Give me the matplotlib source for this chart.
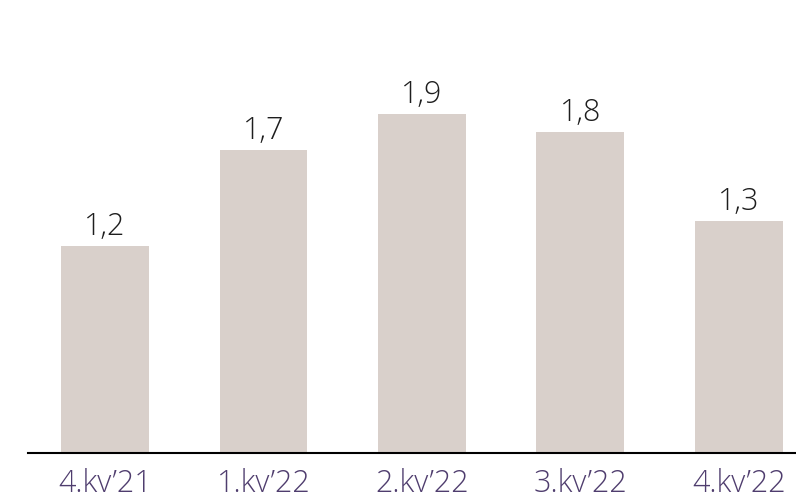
import matplotlib.pyplot as plt

quarters = ["4.kv\u201921", "1.kv\u201922", "2.kv\u201922", "3.kv\u201922", "4.kv\u201922"]
values = [1.16, 1.7, 1.9, 1.8, 1.3]

bar_color = "#d9d0cb"
tick_color = "#4f3d6e"

plt.rcParams['font.family'] = ['Open Sans', 'DejaVu Sans']

fig = plt.figure(figsize=(7.96, 5.01), dpi=100)
ax = fig.add_axes([28 / 796, 48 / 501, 768 / 796, 453 / 501])

x = list(range(len(quarters)))
bars = ax.bar(x, values, width=0.555, color=bar_color)

for xi, v in zip(x, values):
    ax.annotate(f"{v:.1f}".replace(".", ","), (xi, v), xytext=(0, 8),
                textcoords="offset points", ha="center", va="baseline",
                fontsize=22, fontweight="light", color="#1e1e1e")

ax.set_xlim(-0.486, 4.36)
ax.set_ylim(0, 2.54)
ax.set_xticks(x)
ax.set_xticklabels(quarters, fontsize=22, fontweight="light", color=tick_color)
ax.tick_params(axis="x", length=0, pad=11)
ax.set_yticks([])
for side in ["top", "right", "left"]:
    ax.spines[side].set_visible(False)
ax.spines["bottom"].set_linewidth(1.5)
ax.spines["bottom"].set_color("black")

fig.savefig("out.png", dpi=100)
